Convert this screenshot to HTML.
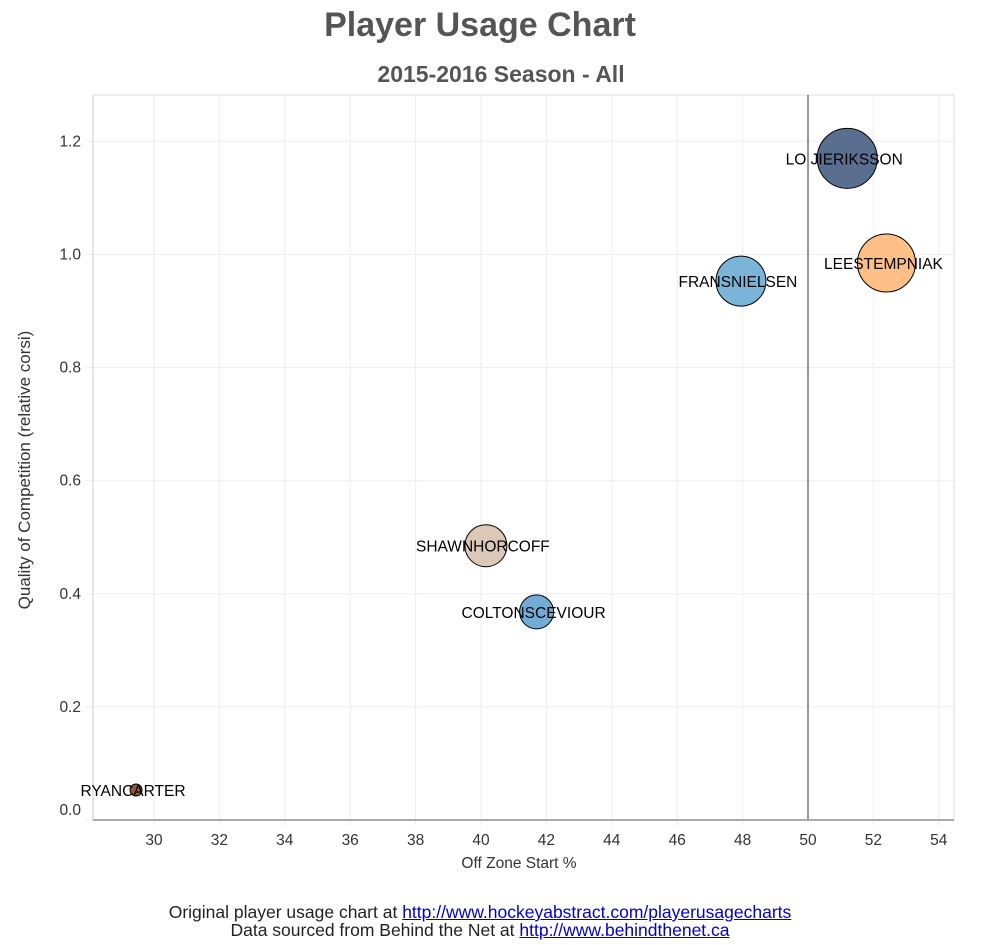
<!DOCTYPE html>
<html><head><meta charset="utf-8"><style>
body{margin:0;background:#fff;font-family:"Liberation Sans",Arial,sans-serif;}
#wrap{position:relative;width:981px;height:945px;overflow:hidden;}
.foot{position:absolute;left:0;width:960px;text-align:center;font-size:17.5px;color:#222;line-height:18px;}
.foot a{color:#00c;text-decoration:underline;}
</style></head><body>
<div id="wrap">
<svg id="chart" width="981" height="945" style="position:absolute;left:0;top:0">
<text x="480" y="36" text-anchor="middle" font-size="34" font-weight="bold" fill="#555">Player Usage Chart</text>
<text x="501" y="82" text-anchor="middle" font-size="23" font-weight="bold" fill="#555">2015-2016 Season - All</text>
<g id="grid"></g>
<rect x="93" y="95" width="861" height="725" fill="none" stroke="#ddd"/>
<line x1="93" y1="820" x2="954" y2="820" stroke="#aaa" stroke-width="2"/>
<line x1="93" y1="95" x2="93" y2="820" stroke="#ccc"/>
<line id="vline" y1="95" y2="820" stroke="#999" stroke-width="2"/>
<g id="bubbles"></g>
<text x="519" y="868" text-anchor="middle" font-size="15.5" fill="#333">Off Zone Start %</text>
<text transform="translate(30,470) rotate(-90)" text-anchor="middle" font-size="17" fill="#333">Quality of Competition (relative corsi)</text>
</svg>
<div class="foot" style="top:903px">Original player usage chart at <a>http://www.hockeyabstract.com/playerusagecharts</a></div>
<div class="foot" style="top:921px">Data sourced from Behind the Net at <a>http://www.behindthenet.ca</a></div>
</div>
<script>
const xTicks=[30,32,34,36,38,40,42,44,46,48,50,52,54];
const yTicks=[0.0,0.2,0.4,0.6,0.8,1.0,1.2];
const players=["LOJIERIKSSON","LEESTEMPNIAK","FRANSNIELSEN","SHAWNHORCOFF","COLTONSCEVIOUR","RYANCARTER"];
const labels=["LO JIERIKSSON","LEESTEMPNIAK","FRANSNIELSEN","SHAWNHORCOFF","COLTONSCEVIOUR","RYANCARTER"];
const ozs=[51.2,52.4,47.95,40.15,41.7,29.45];
const qoc=[1.17,0.985,0.953,0.485,0.368,0.053];
const sizes=[30,29,25,21,17,6];
const colors=["#5a6e90","#fdbf86","#7ab4d8","#dcc8b6","#72acd6","#8b5a3c"];
const NS="http://www.w3.org/2000/svg";
function xs(v){return 154+(v-30)*32.7;}
function ys(v){return 820-v*565.5;}
const grid=document.getElementById('grid');
xTicks.forEach(t=>{
 const l=document.createElementNS(NS,'line');
 l.setAttribute('x1',xs(t));l.setAttribute('x2',xs(t));l.setAttribute('y1',95);l.setAttribute('y2',826);
 l.setAttribute('stroke','#eee');
 
 
 grid.appendChild(l);
 const tx=document.createElementNS(NS,'text');
 tx.setAttribute('x',xs(t));tx.setAttribute('y',845);tx.setAttribute('text-anchor','middle');tx.setAttribute('font-size','15.5');tx.setAttribute('fill','#333');
 tx.textContent=t;
 
 
 grid.appendChild(tx);
});
yTicks.forEach(t=>{
 const y=ys(t);
 const l=document.createElementNS(NS,'line');
 l.setAttribute('x1',86);l.setAttribute('x2',954);l.setAttribute('y1',y);l.setAttribute('y2',y);
 l.setAttribute('stroke','#eee');
 
 
 grid.appendChild(l);
 const tx=document.createElementNS(NS,'text');
 tx.setAttribute('x',81);tx.setAttribute('y',Math.min(y,810)+5);tx.setAttribute('text-anchor','end');tx.setAttribute('font-size','15.5');tx.setAttribute('fill','#333');
 tx.textContent=t.toFixed(1);
 
 
 grid.appendChild(tx);
});
const vl=document.getElementById('vline');vl.setAttribute('x1',xs(50));vl.setAttribute('x2',xs(50));
const bg=document.getElementById('bubbles');
players.forEach((p,i)=>{
 const c=document.createElementNS(NS,'circle');
 c.setAttribute('cx',xs(ozs[i]));c.setAttribute('cy',ys(qoc[i]));c.setAttribute('r',sizes[i]);
 c.setAttribute('fill',colors[i]);c.setAttribute('stroke','#000');c.setAttribute('stroke-width','1');
 
 
 bg.appendChild(c);
});
players.forEach((p,i)=>{
 const t=document.createElementNS(NS,'text');
 t.setAttribute('x',xs(ozs[i])-3);t.setAttribute('y',ys(qoc[i])+6);t.setAttribute('text-anchor','middle');t.setAttribute('font-size','15.5');t.setAttribute('fill','#000');
 t.textContent=labels[i];
 
 
 bg.appendChild(t);
});
</script>
</body></html>
